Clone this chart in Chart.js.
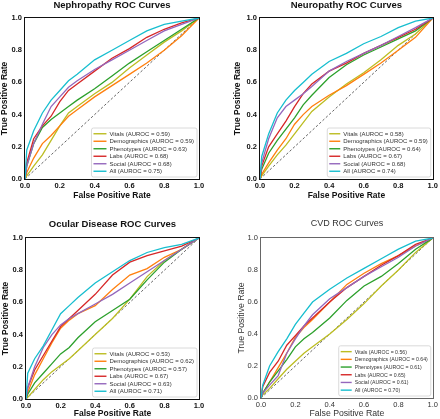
<!DOCTYPE html>
<html>
<head>
<meta charset="utf-8">
<script src="https://cdn.jsdelivr.net/npm/chart.js@4.4.1/dist/chart.umd.min.js"></script>
<style>
  body { margin: 0; background: #fff; }
  canvas { position: absolute; }
</style>
</head>
<body>
<canvas id="c1" width="220" height="209" style="left:0;top:0"></canvas>
<canvas id="c2" width="220" height="209" style="left:220px;top:0"></canvas>
<canvas id="c3" width="220" height="210" style="left:0;top:209px"></canvas>
<canvas id="c4" width="220" height="210" style="left:220px;top:209px"></canvas>
<script>
// shared false positive rate grid (curves at these x)
const fpr = [0, 0.01, 0.05, 0.1, 0.15, 0.2, 0.25, 0.3, 0.4, 0.5, 0.6, 0.7, 0.8, 0.9, 1.0];
const models = ["Vitals", "Demographics", "Phenotypes", "Labs", "Social", "All"];
const colors = ["#bcbd22", "#ff7f0e", "#2ca02c", "#d62728", "#9467bd", "#17becf"];
const tickLabels = ["0.0", "0.2", "0.4", "0.6", "0.8", "1.0"];

// Nephropathy
const nephAuroc = [0.59, 0.59, 0.63, 0.68, 0.68, 0.75];
const nephVitals = [0, 0.02, 0.08, 0.15, 0.24, 0.33, 0.41, 0.45, 0.53, 0.60, 0.69, 0.77, 0.85, 0.92, 1];
const nephDemo   = [0, 0.04, 0.13, 0.22, 0.27, 0.33, 0.39, 0.43, 0.51, 0.58, 0.65, 0.72, 0.80, 0.89, 1];
const nephPheno  = [0, 0.08, 0.22, 0.32, 0.37, 0.41, 0.45, 0.49, 0.56, 0.64, 0.72, 0.79, 0.86, 0.93, 1];
const nephLabs   = [0, 0.10, 0.25, 0.33, 0.39, 0.48, 0.55, 0.59, 0.67, 0.75, 0.81, 0.88, 0.93, 0.97, 1];
const nephSocial = [0, 0.08, 0.22, 0.34, 0.45, 0.51, 0.57, 0.61, 0.68, 0.74, 0.80, 0.86, 0.92, 0.96, 1];
const nephAll    = [0, 0.18, 0.30, 0.41, 0.49, 0.55, 0.61, 0.65, 0.74, 0.80, 0.86, 0.92, 0.96, 0.98, 1];

// Neuropathy
const neurAuroc = [0.58, 0.59, 0.64, 0.67, 0.68, 0.74];
const neurVitals = [0, 0.02, 0.08, 0.15, 0.21, 0.28, 0.35, 0.42, 0.51, 0.59, 0.66, 0.74, 0.83, 0.90, 1];
const neurDemo   = [0, 0.03, 0.10, 0.18, 0.25, 0.34, 0.40, 0.45, 0.52, 0.58, 0.65, 0.72, 0.80, 0.88, 1];
const neurPheno  = [0, 0.06, 0.16, 0.24, 0.31, 0.38, 0.46, 0.52, 0.63, 0.71, 0.77, 0.82, 0.87, 0.92, 1];
const neurLabs   = [0, 0.08, 0.20, 0.28, 0.36, 0.45, 0.53, 0.59, 0.67, 0.72, 0.78, 0.83, 0.88, 0.93, 1];
const neurSocial = [0, 0.10, 0.25, 0.38, 0.45, 0.49, 0.53, 0.575, 0.67, 0.73, 0.78, 0.83, 0.885, 0.94, 1];
const neurAll    = [0, 0.14, 0.28, 0.41, 0.49, 0.55, 0.60, 0.65, 0.73, 0.78, 0.84, 0.885, 0.94, 0.98, 1];

// Ocular disease
const ocuAuroc = [0.53, 0.62, 0.57, 0.67, 0.63, 0.71];
const ocuVitals = [0, 0.01, 0.06, 0.12, 0.17, 0.21, 0.25, 0.30, 0.40, 0.50, 0.62, 0.76, 0.86, 0.93, 1];
const ocuDemo   = [0, 0.04, 0.15, 0.25, 0.35, 0.44, 0.49, 0.53, 0.58, 0.68, 0.77, 0.81, 0.88, 0.93, 1];
const ocuPheno  = [0, 0.03, 0.10, 0.16, 0.22, 0.28, 0.32, 0.38, 0.48, 0.55, 0.62, 0.74, 0.85, 0.93, 1];
const ocuLabs   = [0, 0.07, 0.18, 0.27, 0.36, 0.45, 0.50, 0.55, 0.65, 0.77, 0.85, 0.89, 0.92, 0.95, 1];
const ocuSocial = [0, 0.07, 0.20, 0.32, 0.40, 0.46, 0.50, 0.53, 0.59, 0.65, 0.72, 0.79, 0.86, 0.93, 1];
const ocuAll    = [0, 0.16, 0.25, 0.33, 0.43, 0.53, 0.58, 0.63, 0.72, 0.79, 0.86, 0.91, 0.94, 0.96, 1];

// CVD
const cvdAuroc = [0.56, 0.64, 0.61, 0.65, 0.61, 0.70];
const cvdVitals = [0, 0.02, 0.06, 0.12, 0.18, 0.23, 0.28, 0.32, 0.40, 0.49, 0.59, 0.70, 0.80, 0.91, 1];
const cvdDemo   = [0, 0.03, 0.10, 0.19, 0.28, 0.38, 0.44, 0.49, 0.60, 0.71, 0.78, 0.84, 0.89, 0.95, 1];
const cvdPheno  = [0, 0.03, 0.10, 0.17, 0.24, 0.32, 0.37, 0.41, 0.50, 0.61, 0.70, 0.76, 0.84, 0.93, 1];
const cvdLabs   = [0, 0.07, 0.16, 0.23, 0.33, 0.39, 0.45, 0.50, 0.60, 0.69, 0.76, 0.83, 0.89, 0.96, 1];
const cvdSocial = [0, 0.03, 0.08, 0.14, 0.28, 0.37, 0.45, 0.52, 0.62, 0.69, 0.76, 0.82, 0.88, 0.95, 1];
const cvdAll    = [0, 0.08, 0.20, 0.29, 0.37, 0.46, 0.53, 0.60, 0.68, 0.75, 0.81, 0.87, 0.93, 0.98, 1];

const FONT = "'Liberation Sans', Arial, sans-serif";

// box around the plot, like matplotlib spines
const framePlugin = {
  id: "frame",
  afterDatasetsDraw(chart, args, opts) {
    const a = chart.chartArea, ctx = chart.ctx;
    ctx.save();
    ctx.strokeStyle = opts.color;
    ctx.lineWidth = 1;
    ctx.strokeRect(Math.round(a.left) - 0.5, Math.round(a.top) - 0.5,
      Math.round(a.right - a.left) + 1, Math.round(a.bottom - a.top) + 1);
    ctx.restore();
  }
};

// legend in the lower right corner of the plot
const boxLegend = {
  id: "boxLegend",
  afterDraw(chart, args, opts) {
    const a = chart.chartArea, ctx = chart.ctx;
    const items = chart.data.datasets.filter(d => d.label);
    ctx.save();
    ctx.font = opts.size + "px " + FONT;
    let tw = 0;
    items.forEach(d => { tw = Math.max(tw, ctx.measureText(d.label).width); });
    const pad = 2, lineLen = opts.lineLen, gap = 3;
    const w = pad + lineLen + gap + tw + pad + 1;
    const h = items.length * opts.row + 4;
    const x = a.right - 2 - w, y = a.bottom - 2 - h;
    ctx.fillStyle = "rgba(255,255,255,0.85)";
    ctx.strokeStyle = "#d0d0d0";
    ctx.lineWidth = 0.8;
    ctx.beginPath();
    ctx.roundRect(x, y, w, h, 2);
    ctx.fill();
    ctx.stroke();
    ctx.textBaseline = "middle";
    items.forEach((d, i) => {
      const cy = y + 2 + opts.row * (i + 0.5);
      ctx.strokeStyle = d.borderColor;
      ctx.lineWidth = 1.4;
      ctx.beginPath();
      ctx.moveTo(x + pad, cy);
      ctx.lineTo(x + pad + lineLen, cy);
      ctx.stroke();
      ctx.fillStyle = "#333";
      ctx.fillText(d.label, x + pad + lineLen + gap, cy + 0.5);
    });
    ctx.restore();
  }
};

function makePanel(id, title, curves, aurocs, s) {
  const datasets = curves.map((tpr, i) => ({
    label: models[i] + " (AUROC = " + aurocs[i].toFixed(2) + ")",
    data: fpr.map((x, j) => ({ x: x, y: tpr[j] })),
    borderColor: colors[i],
    borderWidth: 1.3,
    order: 5 - i
  }));
  datasets.push({
    data: [{ x: 0, y: 0 }, { x: 1, y: 1 }],
    borderColor: "#222",
    borderWidth: 0.7,
    borderDash: [2.5, 2],
    order: 10
  });
  const weight = s.bold ? "bold" : "normal";
  const txt = s.bold ? "#111" : "#333";
  const tickFont = { family: FONT, size: 7.5, weight: weight };
  const labFont = { family: FONT, size: s.bold ? 8.5 : 8.7, weight: weight };

  new Chart(document.getElementById(id), {
    type: "line",
    data: { datasets: datasets },
    options: {
      responsive: false,
      animation: false,
      layout: { padding: s.pad },
      elements: { point: { radius: 0 }, line: { tension: 0 } },
      plugins: {
        legend: { display: false },
        tooltip: { enabled: false },
        title: {
          display: true, text: title, fullSize: false, color: txt,
          font: { family: FONT, size: s.bold ? 9.5 : 9, weight: weight },
          padding: { top: 0, bottom: s.titleGap }
        },
        frame: { color: s.frame },
        boxLegend: { size: s.legSize, row: s.legRow, lineLen: s.lineLen }
      },
      scales: {
        x: {
          type: "linear", min: 0, max: 1,
          grid: { display: false, drawTicks: false },
          border: { display: false },
          ticks: { stepSize: 0.2, padding: 2, maxRotation: 0, color: txt, font: tickFont,
            callback: (v) => tickLabels[Math.round(v * 5)] },
          title: { display: true, text: "False Positive Rate", color: txt, font: labFont,
            padding: { top: 0, bottom: s.xTitlePad } },
          afterFit: (sc) => { sc.height = s.xh; }
        },
        y: {
          type: "linear", min: 0, max: 1,
          grid: { display: false, drawTicks: false },
          border: { display: false },
          ticks: { stepSize: 0.2, padding: 3, color: txt, font: tickFont,
            callback: (v) => tickLabels[Math.round(v * 5)] },
          title: { display: true, text: "True Positive Rate", color: txt, font: labFont,
            padding: { top: 0, bottom: 0 } },
          afterFit: (sc) => { sc.width = s.yw; }
        }
      }
    },
    plugins: [framePlugin, boxLegend]
  });
}

makePanel("c1", "Nephropathy ROC Curves",
  [nephVitals, nephDemo, nephPheno, nephLabs, nephSocial, nephAll], nephAuroc,
  { bold: true, frame: "#111", pad: { left: 0, right: 21, top: 0, bottom: 6 }, titleGap: 6.6,
    xh: 24, xTitlePad: 2, yw: 25, legSize: 6, legRow: 7.5, lineLen: 13 });

makePanel("c2", "Neuropathy ROC Curves",
  [neurVitals, neurDemo, neurPheno, neurLabs, neurSocial, neurAll], neurAuroc,
  { bold: true, frame: "#111", pad: { left: 13, right: 7, top: 0, bottom: 6 }, titleGap: 6.6,
    xh: 24, xTitlePad: 2, yw: 27, legSize: 6, legRow: 7.5, lineLen: 11 });

makePanel("c3", "Ocular Disease ROC Curves",
  [ocuVitals, ocuDemo, ocuPheno, ocuLabs, ocuSocial, ocuAll], ocuAuroc,
  { bold: true, frame: "#111", pad: { left: 1, right: 21, top: 9.3, bottom: 0 }, titleGap: 8.3,
    xh: 20, xTitlePad: 0, yw: 25, legSize: 6, legRow: 7.5, lineLen: 12 });

makePanel("c4", "CVD ROC Curves",
  [cvdVitals, cvdDemo, cvdPheno, cvdLabs, cvdSocial, cvdAll], cvdAuroc,
  { bold: false, frame: "#666", pad: { left: 16, right: 7, top: 9.6, bottom: 0 }, titleGap: 8.6,
    xh: 21, xTitlePad: 0, yw: 25, legSize: 5.2, legRow: 7.7, lineLen: 11 });
</script>
</body>
</html>
